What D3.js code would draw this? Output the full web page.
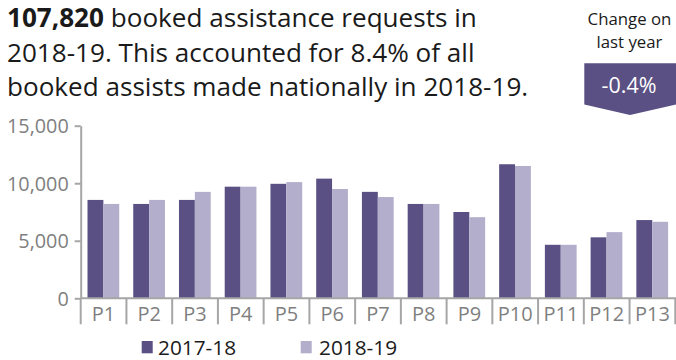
<!DOCTYPE html>
<html>
<head>
<meta charset="utf-8">
<script src="https://cdn.jsdelivr.net/npm/d3@7"></script>
<style>
  html, body { margin: 0; padding: 0; background: #fff; }
  svg { display: block; font-family: "Open Sans", sans-serif; }
</style>
</head>
<body>
<svg id="chart" width="676" height="360"></svg>
<script>
const periods = ["P1","P2","P3","P4","P5","P6","P7","P8","P9","P10","P11","P12","P13"];
const seriesNames = ["2017-18", "2018-19"];
const values2017 = [8550, 8200, 8550, 9700, 9950, 10400, 9250, 8200, 7500, 11650, 4650, 5300, 6800];
const values2018 = [8200, 8550, 9250, 9700, 10100, 9500, 8800, 8200, 7050, 11500, 4650, 5750, 6650];
const yTicks = [0, 5000, 10000, 15000];
const headline = "107,820";
const titleLines = ["booked assistance requests in", "2018-19. This accounted for 8.4% of all", "booked assists made nationally in 2018-19."];
const changeLabel = ["Change on", "last year"];
const changeValue = "-0.4%";

const colors = ["#5a5083", "#b3aecb"];
const axisColor = "#a6a6a6";
const tickTextColor = "#7f7f7f";

const svg = d3.select("#chart");

const x0 = 80.7, x1 = 675.3, yBottom = 298.3, yTop = 125.7;
const x = d3.scaleBand().domain(periods).range([x0, x1]).padding(0);
const xInner = d3.scaleBand().domain(seriesNames).range([6.8, x.bandwidth() - 7.2]).padding(0);
const y = d3.scaleLinear().domain([0, 15000]).range([yBottom, yTop]);

const data = periods.map((p, i) => ({ period: p, vals: [values2017[i], values2018[i]] }));

// bars
const groups = svg.append("g").selectAll("g").data(data).join("g")
  .attr("transform", d => `translate(${x(d.period)},0)`);
groups.selectAll("rect").data(d => d.vals.map((v, j) => ({ s: seriesNames[j], v, j })))
  .join("rect")
  .attr("x", d => xInner(d.s))
  .attr("width", xInner.bandwidth())
  .attr("y", d => y(d.v))
  .attr("height", d => y(0) - y(d.v))
  .attr("fill", d => colors[d.j]);

// y axis
const yAxis = svg.append("g").attr("transform", `translate(${x0},0)`)
  .call(d3.axisLeft(y).tickValues(yTicks).tickFormat(d3.format(",")).tickSize(6).tickSizeOuter(0).tickPadding(6));
yAxis.select(".domain").attr("stroke", axisColor).attr("stroke-width", 2);
yAxis.selectAll(".tick line").attr("stroke", axisColor).attr("stroke-width", 2);
yAxis.selectAll(".tick text").attr("fill", tickTextColor).style("font-size", "19.8px")
  .style("font-family", "'Open Sans', sans-serif").attr("dy", "0.36em");

// x axis baseline + separators
const xg = svg.append("g");
xg.append("line").attr("x1", x0).attr("x2", 676).attr("y1", y(0)).attr("y2", y(0))
  .attr("stroke", axisColor).attr("stroke-width", 2);
const bounds = periods.map(p => x(p)).concat([x1]);
xg.selectAll("line.sep").data(bounds).join("line").attr("class", "sep")
  .attr("x1", d => d).attr("x2", d => d).attr("y1", y(0)).attr("y2", y(0) + 26)
  .attr("stroke", axisColor).attr("stroke-width", 2);
xg.selectAll("text").data(periods).join("text")
  .attr("x", d => x(d) + x.bandwidth() / 2)
  .attr("y", 321)
  .attr("text-anchor", "middle")
  .attr("fill", tickTextColor)
  .style("font-size", "20px")
  .text(d => d);

// title
const t = svg.append("text").attr("x", 7).attr("fill", "#1a1a1a").style("font-size", "26.1px");
const l1 = t.append("tspan").attr("x", 7).attr("y", 26.5);
l1.append("tspan").style("font-weight", "bold").text(headline);
l1.append("tspan").text(" " + titleLines[0]);
t.append("tspan").attr("x", 7).attr("y", 61.5).text(titleLines[1]);
t.append("tspan").attr("x", 7).attr("y", 96).text(titleLines[2]);

// change badge
svg.selectAll("text.chg").data(changeLabel).join("text").attr("class", "chg")
  .attr("text-anchor", "middle").attr("fill", "#1a1a1a").style("font-size", "16.8px")
  .attr("x", 629.5).attr("y", (d, i) => 24.5 + i * 23).text(d => d);
svg.append("path")
  .attr("d", "M584.3,63.3 L676,63.3 L676,104.5 L630,115 L584.3,104.5 Z")
  .attr("fill", colors[0]);
svg.append("text").attr("x", 629).attr("y", 92.5).attr("text-anchor", "middle")
  .attr("fill", "#fff").style("font-size", "21.5px").text(changeValue);

// legend
const legend = svg.append("g");
const lx = [141.7, 300.7], tx = [158, 319];
seriesNames.forEach((s, i) => {
  legend.append("rect").attr("x", lx[i]).attr("y", 341).attr("width", 11).attr("height", 12.3).attr("fill", colors[i]);
  legend.append("text").attr("x", tx[i]).attr("y", 355.3).attr("fill", "#1a1a1a").style("font-size", "20.8px").text(s);
});
</script>
</body>
</html>
